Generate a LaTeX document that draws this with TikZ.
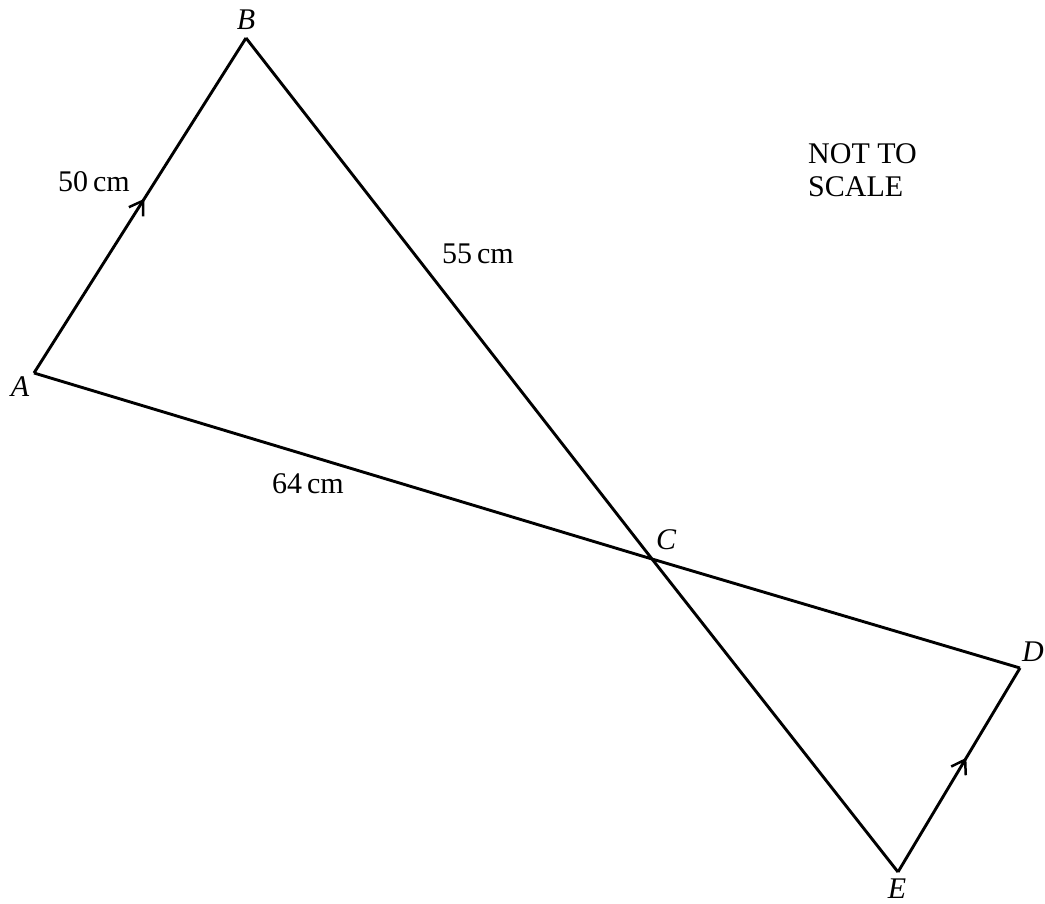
\documentclass[tikz,border=0pt]{standalone}
\usepackage{fontspec}
\setmainfont{Liberation Serif}
\usetikzlibrary{arrows.meta}
\usetikzlibrary{decorations.markings}

\tikzset{
  edge/.style={line width=2.9pt, line join=miter},
  parallel/.style={postaction={decorate, decoration={markings,
      mark=at position #1 with {\arrow{Straight Barb[length=13pt,width=17pt,line width=2.5pt]}}}}},
  lbl/.style={font=\fontsize{30}{33}\selectfont, inner sep=0pt}
}

\begin{document}
\begin{tikzpicture}[x=1pt, y=-1pt]
\useasboundingbox (0,0) rectangle (1045,904);
% corners
\coordinate (A) at (34,373);
\coordinate (B) at (246,38);
\coordinate (C) at (652,559);
\coordinate (D) at (1020,668);
\coordinate (E) at (898,872);
\draw[edge] (B) -- (C) -- (E);
\draw[edge] (A) -- (C) -- (D);
\draw[edge, parallel=0.52] (A) -- (B);
\draw[edge, parallel=0.56] (E) -- (D);
% vertex labels
\node[lbl] (lA) at (20,387) {\itshape A};
\node[lbl] (lB) at (246,20) {\itshape B};
\node[lbl] (lC) at (666,540) {\itshape C};
\node[lbl] (lD) at (1033,652) {\itshape D};
\node[lbl] (lE) at (897,889) {\itshape E};
% lengths
\node[lbl] (sAB) at (94,182) {50\,cm};
\node[lbl] (sBC) at (478,254) {55\,cm};
\node[lbl] (sAC) at (308,484) {64\,cm};
\node[lbl, align=left, anchor=base west] (note) at (808,197) {NOT TO\\SCALE};
\end{tikzpicture}
\end{document}
